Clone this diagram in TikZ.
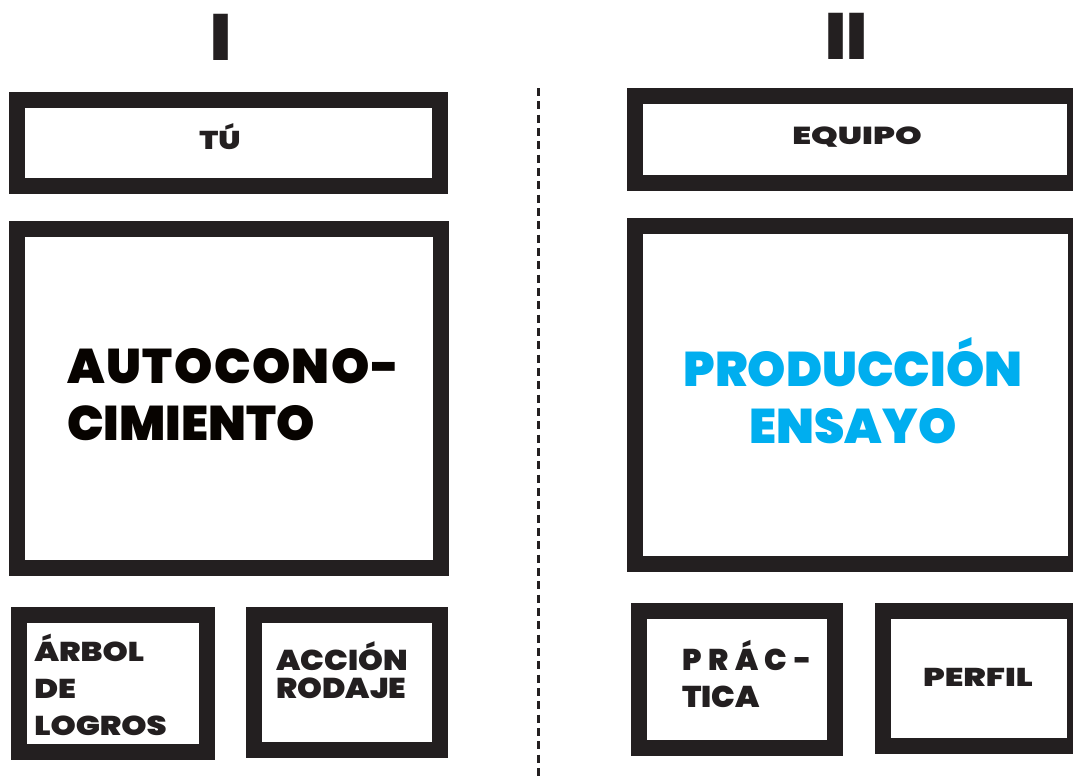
\documentclass[tikz,border=0pt]{standalone}
\usepackage{fontspec}
\usetikzlibrary{arrows.meta}
\newfontfamily\heavy{Poppins Black}
\definecolor{ink}{RGB}{35, 31, 32}
\definecolor{inkD}{RGB}{7, 3, 0}
\definecolor{nicecyan}{RGB}{0, 174, 239}

\begin{document}
\begin{tikzpicture}[x = 0.75pt, y = -0.75pt,
			box/.style = {rectangle, draw = ink, line width = 11.8pt, inner sep = 0pt},
			lbl/.style = {inner sep = 0pt, text = ink, align = left}]
			\useasboundingbox (0,0) rectangle (1073,778);
			\clip (0,0) rectangle (1073,778);
			\node (r1) at (221.5,60) [lbl, anchor = base, font = \heavy\fontsize{49}{49}\selectfont] {I};
			\node (r2) at (846.5,59) [lbl, anchor = base, font = \heavy\fontsize{49}{49}\selectfont] {II};
			\node (tu) at (228.5,143) [box, minimum width = 317.3pt, minimum height = 64.5pt] {};
			\node (auto) at (229,398.5) [box, minimum width = 318pt, minimum height = 254.3pt] {};
			\node (arbol) at (113,683.5) [box, minimum width = 141pt, minimum height = 102.8pt] {};
			\node (accion) at (347,682.5) [box, minimum width = 139.5pt, minimum height = 101.3pt] {};
			\node (equipo) at (855,139.5) [box, minimum width = 330pt, minimum height = 65.3pt] {};
			\node (prod) at (855.5,395) [box, minimum width = 330.8pt, minimum height = 253.5pt] {};
			\node (practica) at (737,679.5) [box, minimum width = 147pt, minimum height = 102.8pt] {};
			\node (perfil) at (979,678.5) [box, minimum width = 144pt, minimum height = 101.3pt] {};
			\node (tuT) at (220,149) [lbl, anchor = base, font = \heavy\fontsize{19.3}{19.3}\selectfont\addfontfeature{FakeStretch = 1.2}] {TÚ};
			\node (equipoT) at (857,144.5) [lbl, anchor = base, font = \heavy\fontsize{18.4}{18.4}\selectfont\addfontfeature{FakeStretch = 1.38}] {EQUIPO};
			\node (autoT) at (67,440) [lbl, anchor = base west, text = inkD, font = \heavy\fontsize{36.5}{42.75}\selectfont] {{\addfontfeature{LetterSpace = 3}AUTOCONO-}\\CIMIENTO};
			\node (prodT) at (853,443) [lbl, anchor = base, align = center, text = nicecyan, font = \heavy\fontsize{36.5}{42.75}\selectfont] {PRODUCCIÓN\\ENSAYO};
			\node (arbolT) at (34,735) [lbl, anchor = base west, font = \heavy\fontsize{20.4}{27.4}\selectfont\addfontfeature{FakeStretch = 1.18}] {ÁRBOL\\DE\\LOGROS};
			\node (accionT) at (276,698) [lbl, anchor = base west, font = \heavy\fontsize{21.5}{21}\selectfont\addfontfeature{FakeStretch = 1.1}] {ACCIÓN\\RODAJE};
			\node (practicaT) at (682,707) [lbl, anchor = base west, font = \heavy\fontsize{22.5}{27.75}\selectfont] {{\addfontfeature{LetterSpace = 22}PRÁC-}\\{\addfontfeature{FakeStretch = 1.05}TICA}};
			\node (perfilT) at (978,686) [lbl, anchor = base, font = \heavy\fontsize{19.3}{19.3}\selectfont\addfontfeature{FakeStretch = 1.3}] {PERFIL};
			\coordinate (top) at (538,88);
			\coordinate (bot) at (538,778);
			\draw [ink, line width = 2.25pt, dash pattern = on 6pt off 4pt] (top) -- (bot);
\end{tikzpicture}
\end{document}
